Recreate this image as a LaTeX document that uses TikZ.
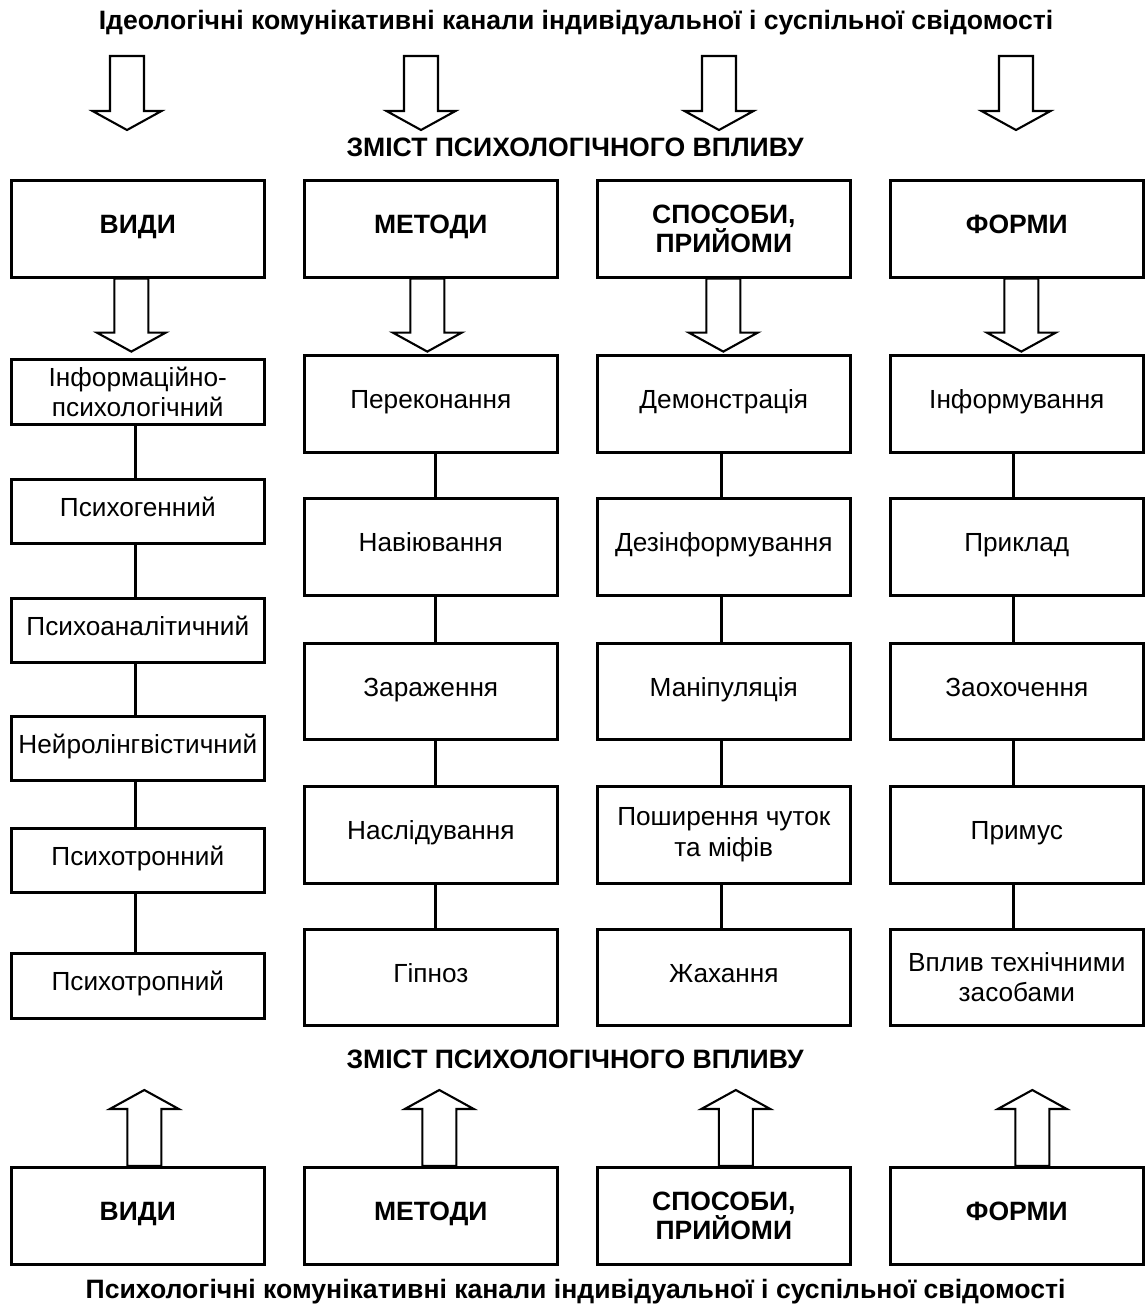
\documentclass[tikz,border=0pt]{standalone}
\usepackage{fontspec}
\setmainfont{Liberation Sans}
\usetikzlibrary{calc}
\tikzset{
  box/.style={draw, line width=2.6pt, inner sep=0pt, minimum width=253pt, anchor=north west, align=center},
  hdr/.style={box, minimum height=97pt, font=\bfseries\fontsize{26.5}{28}\selectfont},
  itm/.style={box, font=\fontsize{26.2}{30.5}\selectfont},
  one/.style={text height=18pt, text depth=8pt},
  conn/.style={line width=2.8pt},
  blk/.style={draw, line width=2.1pt, fill=white, line join=miter},
  ttl/.style={font=\bfseries\fontsize{26.6}{30}\selectfont, inner sep=0pt},
  zm/.style={font=\bfseries\fontsize{26.6}{30}\selectfont, inner sep=0pt},
}
% #1 start point, #2 direction (1 = down, -1 = up), #3 length
\newcommand\blockarrow[3]{%
  \draw[blk] #1 ++(-17,0) -- ++(34,0) -- ++(0,{#2*(#3-19)}) -- ++(17.5,0)
    -- ++(-34.5,{#2*19}) -- ++(-34.5,{-#2*19}) -- ++(17.5,0) -- cycle;}
\begin{document}
\begin{tikzpicture}[x=1pt,y=-1pt]
\useasboundingbox (0,0) rectangle (1146,1306);

% titles
\node[ttl] (ttop) at (576,23) {Ідеологічні комунікативні канали індивідуальної і суспільної свідомості};
\node[zm] (z1) at (575,147) {ЗМІСТ ПСИХОЛОГІЧНОГО ВПЛИВУ};
\node[zm] (z2) at (575,1059) {ЗМІСТ ПСИХОЛОГІЧНОГО ВПЛИВУ};
\node[ttl] (tbot) at (575.5,1292) {Психологічні комунікативні канали індивідуальної і суспільної свідомості};

% header boxes (top)
\node[hdr,one] (h1) at (10,179) {ВИДИ};
\node[hdr,one] (h2) at (303,179) {МЕТОДИ};
\node[hdr] (h3) at (596,179) {СПОСОБИ,\\ПРИЙОМИ};
\node[hdr,one] (h4) at (889,179) {ФОРМИ};

% header boxes (bottom)
\node[hdr,one] (b1) at (10,1166) {ВИДИ};
\node[hdr,one] (b2) at (303,1166) {МЕТОДИ};
\node[hdr] (b3) at (596,1166) {СПОСОБИ,\\ПРИЙОМИ};
\node[hdr,one] (b4) at (889,1166) {ФОРМИ};

% column 1 items
\node[itm,minimum height=65pt] (v1) at (10,358) {Інформаційно-\\психологічний};
\node[itm,one,minimum height=64pt] (v2) at (10,478) {Психогенний};
\node[itm,one,minimum height=64pt] (v3) at (10,597) {Психоаналітичний};
\node[itm,one,minimum height=64pt] (v4) at (10,715) {Нейролінгвістичний};
\node[itm,one,minimum height=64pt] (v5) at (10,827) {Психотронний};
\node[itm,one,minimum height=65pt] (v6) at (10,952) {Психотропний};

% column 2 items
\node[itm,one,minimum height=97pt] (m1) at (303,354) {Переконання};
\node[itm,one,minimum height=97pt] (m2) at (303,497) {Навіювання};
\node[itm,one,minimum height=96pt] (m3) at (303,642) {Зараження};
\node[itm,one,minimum height=97pt] (m4) at (303,785) {Наслідування};
\node[itm,one,minimum height=96pt] (m5) at (303,928) {Гіпноз};

% column 3 items
\node[itm,one,minimum height=97pt] (s1) at (596,354) {Демонстрація};
\node[itm,one,minimum height=97pt] (s2) at (596,497) {Дезінформування};
\node[itm,one,minimum height=96pt] (s3) at (596,642) {Маніпуляція};
\node[itm,minimum height=97pt] (s4) at (596,785) {Поширення чуток\\та міфів};
\node[itm,one,minimum height=96pt] (s5) at (596,928) {Жахання};

% column 4 items
\node[itm,one,minimum height=97pt] (f1) at (889,354) {Інформування};
\node[itm,one,minimum height=97pt] (f2) at (889,497) {Приклад};
\node[itm,one,minimum height=96pt] (f3) at (889,642) {Заохочення};
\node[itm,one,minimum height=97pt] (f4) at (889,785) {Примус};
\node[itm,minimum height=96pt] (f5) at (889,928) {Вплив технічними\\засобами};

% connectors
\foreach \a/\b in {v1/v2,v2/v3,v3/v4,v4/v5,v5/v6}
  \draw[conn] ([xshift=-2.5pt]\a.south) -- ([xshift=-2.5pt]\b.north);
\foreach \a/\b in {m1/m2,m2/m3,m3/m4,m4/m5}
  \draw[conn] ([xshift=4.5pt]\a.south) -- ([xshift=4.5pt]\b.north);
\foreach \a/\b in {s1/s2,s2/s3,s3/s4,s4/s5}
  \draw[conn] ([xshift=-2.5pt]\a.south) -- ([xshift=-2.5pt]\b.north);
\foreach \a/\b in {f1/f2,f2/f3,f3/f4,f4/f5}
  \draw[conn] ([xshift=-3.5pt]\a.south) -- ([xshift=-3.5pt]\b.north);

% top block arrows
\coordinate (ta1) at (127,56);
\coordinate (ta2) at (421,56);
\coordinate (ta3) at (719,56);
\coordinate (ta4) at (1016,56);
\blockarrow{(ta1)}{1}{74}
\blockarrow{(ta2)}{1}{74}
\blockarrow{(ta3)}{1}{74}
\blockarrow{(ta4)}{1}{74}

% arrows from headers to first items
\blockarrow{([xshift=-6.5pt]h1.south)}{1}{73}
\blockarrow{([xshift=-3.5pt]h2.south)}{1}{73}
\blockarrow{([xshift=-0.5pt]h3.south)}{1}{73}
\blockarrow{([xshift=4.5pt]h4.south)}{1}{73}

% bottom arrows (up)
\blockarrow{([xshift=6.5pt]b1.north)}{-1}{76}
\blockarrow{([xshift=8.5pt]b2.north)}{-1}{76}
\blockarrow{([xshift=12pt]b3.north)}{-1}{76}
\blockarrow{([xshift=15.5pt]b4.north)}{-1}{76}
\end{tikzpicture}
\end{document}
